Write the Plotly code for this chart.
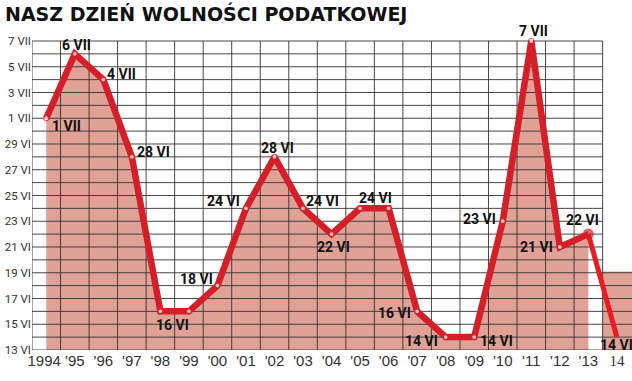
import plotly.graph_objects as go

# ---------------- data ----------------
years = list(range(1994, 2015))
# day index: June d -> d, July d -> 30 + d
values = [31, 36, 34, 28, 16, 16, 18, 24, 28, 24, 22, 24, 24, 16, 14, 14, 23, 37, 21, 22, 14]
point_labels = ["1 VII", "6 VII", "4 VII", "28 VI", "16 VI", "", "18 VI", "24 VI", "28 VI",
                "24 VI", "22 VI", "24 VI", "", "16 VI", "14 VI", "14 VI", "23 VI", "7 VII",
                "21 VI", "22 VI", "14 VI"]
x_tick_labels = ["1994\u00a0", "'95", "'96", "'97", "'98", "'99", "'00", "'01", "'02",
                 "'03", "'04", "'05", "'06", "'07", "'08", "'09", "'10", "'11", "'12", "'13",
                 "<span style='font-family:Liberation Serif;'>14</span>"]
y_tick_vals = [13, 15, 17, 19, 21, 23, 25, 27, 29, 31, 33, 35, 37]
y_tick_labels = ["13 VI", "15 VI", "17 VI", "19 VI", "21 VI", "23 VI", "25 VI", "27 VI",
                 "29 VI", "1 VII", "3 VII", "5 VII", "7 VII"]
title_text = "NASZ DZIEŃ WOLNOŚCI PODATKOWEJ"
level_2014 = 19.1   # height of the background block behind the 2014 segment

# ---------------- style ----------------
# label offsets in pixels (dx right, dy down) relative to each point
label_offsets = [(20, 8), (2, -9), (18, -6), (22, -5), (12, 14), (0, 0), (-21, -7), (-22, -7),
                 (3, -9), (19, -7), (2, 13), (15, -10), (0, 0), (-23, 2), (-24, 4), (22, 4),
                 (-23, -2), (2, -10), (-23, 0), (-6, -14), (0, 8)]
RED = "#d41f28"
RED2 = "#ea1a22"
FILL = "#e0a297"
GRID = "rgba(55,50,50,0.9)"
x_lo, x_hi = years[0] - 0.5, years[-1] + 0.53
y_lo, y_hi = y_tick_vals[0], 37.31

fig = go.Figure()

# area under the line (up to 2013)
fig.add_trace(go.Scatter(x=years[:-1], y=values[:-1], mode="lines", line=dict(width=0),
                         fill="tozeroy", fillcolor=FILL, hoverinfo="skip"))
# background block for 2014
bx0 = years[-1] - 0.5
fig.add_trace(go.Scatter(x=[bx0, bx0, x_hi, x_hi, bx0], y=[y_lo, level_2014, level_2014, y_lo, y_lo],
                         mode="lines", line=dict(width=0), fill="toself", fillcolor=FILL,
                         hoverinfo="skip"))

# grid
gx, gy = [], []
grid_right = years[-2] + 0.5
for d in range(y_tick_vals[0], y_tick_vals[-1] + 1):
    right = x_hi if d <= level_2014 else grid_right
    gx += [x_lo, right, None]
    gy += [d, d, None]
for yr in years:
    gx += [yr - 0.5, yr - 0.5, None]
    gy += [y_lo, y_tick_vals[-1], None]
fig.add_trace(go.Scatter(x=gx, y=gy, mode="lines", line=dict(color=GRID, width=1),
                         hoverinfo="skip"))

# 2013 -> 2014 segment
fig.add_trace(go.Scatter(x=years[-2:], y=values[-2:], mode="lines",
                         line=dict(color=RED2, width=5), hoverinfo="skip"))

# main line
n = len(years) - 1
msize = [5] * n
mcol = ["white"] * n
mline = [1.2] * n
msize[-1] = 11
mcol[-1] = RED
mline[-1] = 0
fig.add_trace(go.Scatter(x=years[:-1], y=values[:-1], mode="lines+markers",
                         line=dict(color=RED, width=6.5),
                         marker=dict(size=msize, color=mcol, line=dict(color=RED, width=mline)),
                         cliponaxis=False, hoverinfo="skip"))

# point labels
for yr, v, lab, (dx, dy) in zip(years, values, point_labels, label_offsets):
    if not lab:
        continue
    fig.add_annotation(x=yr, y=v, text="<b>" + lab + "</b>", showarrow=False,
                       xshift=dx, yshift=-dy, xanchor="center", yanchor="middle",
                       font=dict(family="Roboto", size=14, color="#111111"))

# title
fig.add_annotation(xref="paper", yref="paper", x=0, y=1, xshift=-29, yshift=24,
                   xanchor="left", yanchor="middle", showarrow=False,
                   text="<b>" + title_text + "</b>",
                   font=dict(family="DejaVu Sans", size=19, color="#111111"))

fig.update_layout(
    width=632, height=381,
    margin=dict(l=32, r=0, t=37, b=31),
    paper_bgcolor="white", plot_bgcolor="white",
    showlegend=False,
    xaxis=dict(range=[x_lo, x_hi], showgrid=False, zeroline=False, showline=False,
               tickvals=years, ticktext=x_tick_labels, ticks="", tickangle=0, automargin=False,
               tickfont=dict(family="Liberation Sans", size=15, color="#333333")),
    yaxis=dict(range=[y_lo, y_hi], showgrid=False, zeroline=False, showline=False,
               tickvals=y_tick_vals, ticktext=y_tick_labels, ticks="", automargin=False,
               tickfont=dict(family="Roboto", size=11.5, color="#333333")),
)

fig.write_html("out.html", config={"displayModeBar": False},
               post_script="document.body.style.margin='0';")
